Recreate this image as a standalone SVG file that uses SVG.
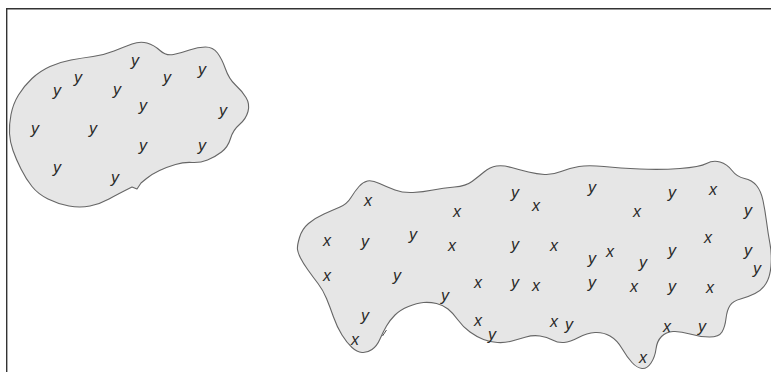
<svg xmlns="http://www.w3.org/2000/svg" width="771" height="372" viewBox="0 0 771 372">
<style>
.blob{fill:#e6e6e6;stroke:#666;stroke-width:1.1;stroke-linejoin:round}
.frame{fill:none;stroke:#333;stroke-width:1.4}
text{font-family:"Liberation Sans",Arial,sans-serif;font-style:italic;font-size:16px;fill:#2a2a2a;text-anchor:middle}
</style>
<rect width="771" height="372" fill="#fff"/>
<path class="frame" d="M6.7,372 V8.7 H771"/>
<g id="blob-left">
<path class="blob" d="M9.5,133.5 Q9,125 11,114.5 Q13,104 18.5,95 Q24,86 32,78.5 Q40,71 50,66.5 Q60,62 71,60 Q82,58 93,56.5 Q104,55 114,51 Q124,47 132,44 Q140,41 147,43 Q154,45 160,50.5 Q166,56 173.5,54.5 Q181,53 189.5,50 Q198,47 205.5,47 Q213,47 217.5,53 Q222,59 225.5,69 Q229,79 235.5,85 Q242,91 246,97.5 Q250,104 248,111.5 Q246,119 239.5,124.5 Q233,130 230.5,138.5 Q228,147 221.5,152 Q215,157 207.5,160 Q200,163 192,162.5 Q184,162 175.5,164.5 Q167,167 159.5,170.5 Q152,174 146.5,178.5 L141,183 L137,189 L132,187 Q118,194 109,199 Q100,204 90,206 Q80,208 69,206 Q58,204 48,199 Q38,194 32,186.5 Q26,179 21,169 Q16,159 13,150.5 Q10,142 9.5,133.5 Z"/>
<text x="135" y="65.5">y</text>
<text x="78" y="82.5">y</text>
<text x="57" y="95.5">y</text>
<text x="117" y="94.5">y</text>
<text x="167" y="82.5">y</text>
<text x="202" y="74.5">y</text>
<text x="143" y="110.5">y</text>
<text x="223" y="115.5">y</text>
<text x="35" y="133.5">y</text>
<text x="93" y="133.5">y</text>
<text x="143" y="150.5">y</text>
<text x="202" y="150.5">y</text>
<text x="57" y="172.5">y</text>
<text x="115" y="182.5">y</text>
</g>
<g id="blob-right">
<path class="blob" d="M297.5,249.5 Q297,246 299.5,237.5 Q302,229 308.5,223.5 Q315,218 324,214 Q333,210 340,207 Q347,204 351,197.5 Q355,191 359,186.5 Q363,182 367.5,181 Q372,180 379.5,183.5 Q387,187 395,190 Q403,193 413,192.5 Q423,192 433,190 Q443,188 454.5,187 Q466,186 472,181.5 Q478,177 484,172 Q490,167 496.5,166 Q503,165 511.5,167.5 Q520,170 528.5,172 Q537,174 544.5,174.5 Q552,175 561,171.5 Q570,168 579,166.5 Q588,165 604,166.5 Q620,168 640,169 Q660,170 680,168.5 Q700,167 706.5,163.5 Q713,160 720,162 Q727,164 732,170.5 Q737,177 744.5,178.5 Q752,180 756.5,185.5 Q761,191 763,200.5 Q765,210 766.5,221.5 Q768,233 770,244 Q772,255 771,266 Q770,277 766,283.5 Q762,290 755,293.5 Q748,297 740.5,299 Q733,301 730,305.5 Q727,310 726,318.5 Q725,327 722,332 Q719,337 709.5,337 Q700,337 690,334 Q680,331 673,331.5 Q666,332 661.5,336.5 Q657,341 656,349 Q655,357 651,363 Q647,369 642,368.5 Q637,368 632,362.5 Q627,357 622,348.5 Q617,340 610,336 Q603,332 595,332.5 Q587,333 578.5,337.5 Q570,342 564,342.5 Q558,343 552.5,340 Q547,337 540,336 Q533,335 526,337 Q519,339 512,341 Q505,343 497.5,342.5 Q490,342 483.5,339.5 Q477,337 470,332 Q463,327 458,320 Q453,313 448,309 Q443,305 436.5,303.5 Q430,302 423.5,302.5 Q417,303 408.5,306.5 Q400,310 395,315 Q390,320 386.5,326 Q383,332 380,339 Q377,346 372,349.5 Q367,353 362,352.5 Q357,352 352,347.5 Q347,343 342,335 Q337,327 333.5,317 Q330,307 326.5,298.5 Q323,290 318,283.5 Q313,277 308,270 Q303,263 300.5,258 Q298,253 297.5,249.5 Z"/>
<path d="M382.5,336 L386.5,330" fill="none" stroke="#555" stroke-width="1"/>
<text x="368" y="206">x</text>
<text x="515" y="197.5">y</text>
<text x="536" y="211">x</text>
<text x="592" y="192.5">y</text>
<text x="457" y="217">x</text>
<text x="637" y="217">x</text>
<text x="672" y="197.5">y</text>
<text x="713" y="195">x</text>
<text x="748" y="215.5">y</text>
<text x="327" y="246">x</text>
<text x="365" y="246.5">y</text>
<text x="413" y="239.5">y</text>
<text x="452" y="251">x</text>
<text x="515" y="249.5">y</text>
<text x="554" y="251">x</text>
<text x="592" y="263.5">y</text>
<text x="610" y="257">x</text>
<text x="643" y="267.5">y</text>
<text x="672" y="255.5">y</text>
<text x="708" y="243">x</text>
<text x="748" y="255.5">y</text>
<text x="757" y="273.5">y</text>
<text x="327" y="281">x</text>
<text x="397" y="280.5">y</text>
<text x="478" y="288">x</text>
<text x="515" y="287.5">y</text>
<text x="536" y="291">x</text>
<text x="592" y="287.5">y</text>
<text x="634" y="292">x</text>
<text x="672" y="291.5">y</text>
<text x="710" y="293">x</text>
<text x="445" y="300.5">y</text>
<text x="365" y="320.5">y</text>
<text x="478" y="326">x</text>
<text x="554" y="327">x</text>
<text x="569" y="329.5">y</text>
<text x="667" y="332">x</text>
<text x="702" y="331.5">y</text>
<text x="355" y="345">x</text>
<text x="492" y="339.5">y</text>
<text x="643" y="363">x</text>
</g>
<g id="connectors"/>
</svg>
